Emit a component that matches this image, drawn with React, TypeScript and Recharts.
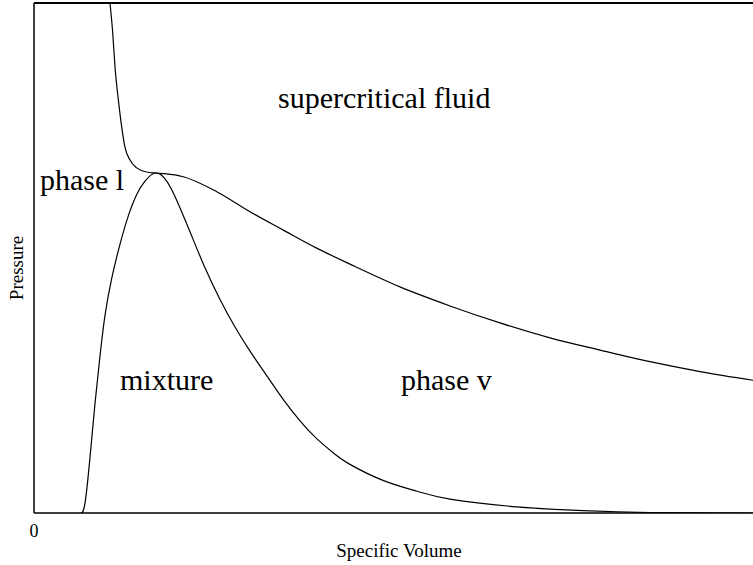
import { LineChart, Line, XAxis, YAxis, ReferenceLine, Customized } from "recharts";

// reduced specific volume (v/vc) and pressure (P/Pc)
const isothermV = [0.633, 0.656, 0.675, 0.703, 0.731, 0.758, 0.8, 0.856, 0.939, 1.01, 1.09, 1.244, 1.523, 1.8, 2.078, 2.356, 2.633, 3.05, 3.467, 3.883, 4.3, 4.717, 5.133, 5.55, 6.0];
const isothermP = [1.5, 1.412, 1.312, 1.215, 1.135, 1.076, 1.038, 1.015, 1.003, 1.0, 0.998, 0.989, 0.945, 0.886, 0.832, 0.779, 0.732, 0.665, 0.609, 0.559, 0.515, 0.479, 0.445, 0.416, 0.39];

const domeV = [0.392, 0.425, 0.467, 0.508, 0.55, 0.592, 0.648, 0.717, 0.786, 0.856, 0.925, 1.01, 1.092, 1.175, 1.3, 1.425, 1.55, 1.675, 1.8, 1.939, 2.075, 2.217, 2.358, 2.508, 2.633, 2.908, 3.192, 3.467, 4.025, 4.575, 5.133, 6.0];
const domeP = [0, 0.029, 0.165, 0.321, 0.462, 0.582, 0.691, 0.791, 0.874, 0.937, 0.976, 1.0, 0.983, 0.931, 0.827, 0.721, 0.628, 0.547, 0.476, 0.404, 0.335, 0.271, 0.218, 0.173, 0.143, 0.096, 0.064, 0.041, 0.018, 0.0068, 0.0015, 0];

const xTicks = [0];

const isotherm = isothermV.map((v, i) => ({ v, p: isothermP[i] }));
const dome = domeV.map((v, i) => ({ v, p: domeP[i] }));

const serif = "'Liberation Serif', 'Times New Roman', serif";

const Labels = () => (
  <g fontFamily={serif} fill="#000">
    <text x={278} y={108} fontSize={30}>supercritical fluid</text>
    <text x={40} y={190} fontSize={30}>phase l</text>
    <text x={120} y={390} fontSize={30}>mixture</text>
    <text x={401} y={390} fontSize={30}>phase v</text>
    <text x={399} y={557} fontSize={19} textAnchor="middle">Specific Volume</text>
    <text x={23} y={268} fontSize={19} textAnchor="middle" transform="rotate(-90 23 268)">Pressure</text>
  </g>
);

export default function App() {
  return (
    <div style={{ position: "absolute", left: 0, top: 0, width: 753, height: 565, overflow: "hidden", background: "#fff" }}>
      <LineChart width={754} height={565} margin={{ top: 3, right: 0, left: 0, bottom: 0 }}>
        <XAxis
          dataKey="v"
          type="number"
          domain={[0, 6]}
          ticks={xTicks}
          height={52}
          axisLine={{ stroke: "#000", strokeWidth: 1.5 }}
          tickLine={false}
          tickMargin={5}
          tick={{ fontFamily: serif, fontSize: 18, fill: "#000" }}
          allowDataOverflow
        />
        <YAxis
          type="number"
          domain={[0, 1.5]}
          width={34}
          axisLine={{ stroke: "#000", strokeWidth: 1.5 }}
          tick={false}
          tickLine={false}
          allowDataOverflow
        />
        <ReferenceLine y={1.5} stroke="#000" strokeWidth={2} />
        <Line data={isotherm} dataKey="p" type="monotone" dot={false} stroke="#000" strokeWidth={1.2} isAnimationActive={false} />
        <Line data={dome} dataKey="p" type="natural" dot={false} stroke="#000" strokeWidth={1.2} isAnimationActive={false} />
        <Customized component={Labels} />
      </LineChart>
    </div>
  );
}
